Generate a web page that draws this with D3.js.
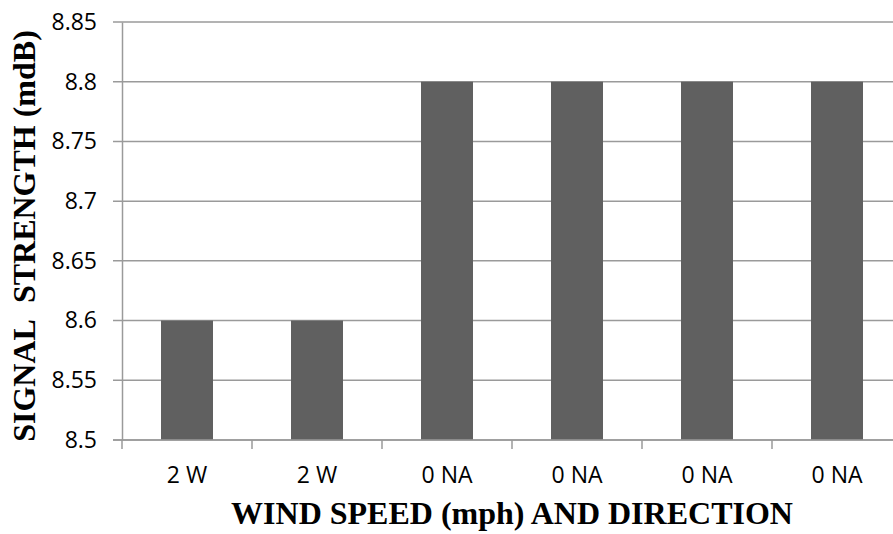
<!DOCTYPE html>
<html>
<head>
<meta charset="utf-8">
<script src="https://cdn.jsdelivr.net/npm/d3@7"></script>
<style>
  body { margin: 0; background: #fff; }
  svg { display: block; }
</style>
</head>
<body>
<svg id="chart"></svg>
<script>
// chart values
const categories = ["2 W", "2 W", "0 NA", "0 NA", "0 NA", "0 NA"];
const signal = [8.6, 8.6, 8.8, 8.8, 8.8, 8.8];
const yTicks = [8.5, 8.55, 8.6, 8.65, 8.7, 8.75, 8.8, 8.85];

const WIDTH = 893, HEIGHT = 534;
const plotLeft = 122, plotRight = 902, plotTop = 22, plotBottom = 440;

const svg = d3.select("#chart")
    .attr("width", WIDTH)
    .attr("height", HEIGHT);

const x = d3.scaleBand()
    .domain(d3.range(categories.length))
    .range([plotLeft, plotRight])
    .paddingInner(0.6)
    .paddingOuter(0.3);

const y = d3.scaleLinear()
    .domain([8.5, 8.85])
    .range([plotBottom, plotTop]);

// gridlines
svg.append("g")
    .selectAll("line")
    .data(yTicks)
    .join("line")
    .attr("x1", plotLeft - 9)
    .attr("x2", plotRight)
    .attr("y1", d => y(d))
    .attr("y2", d => y(d))
    .style("stroke", "#9a9a9a")
    .style("stroke-width", 1.5);

// bars
svg.append("g")
    .selectAll("rect")
    .data(signal)
    .join("rect")
    .attr("x", (d, i) => x(i))
    .attr("width", x.bandwidth())
    .attr("y", d => y(d))
    .attr("height", d => y(8.5) - y(d))
    .style("fill", "#606060");

// y axis
const yAxis = svg.append("g")
    .attr("transform", `translate(${plotLeft},0)`)
    .call(d3.axisLeft(y).tickValues(yTicks).tickFormat(d3.format("")).tickSize(0).tickPadding(25));
yAxis.select(".domain").style("stroke", "#9a9a9a").style("stroke-width", 1.5);
yAxis.selectAll("text")
    .style("font-family", "'Open Sans'")
    .style("font-size", "23px")
    .style("fill", "#000");

// x axis: ticks sit on category boundaries
const xb = d3.scaleLinear().domain([0, categories.length]).range([plotLeft, plotRight]);
const xAxis = svg.append("g")
    .attr("transform", `translate(0,${plotBottom})`);
xAxis.append("line")
    .attr("x1", plotLeft - 9).attr("x2", plotRight)
    .style("stroke", "#9a9a9a").style("stroke-width", 1.5);
xAxis.selectAll(".tick")
    .data(d3.range(categories.length + 1))
    .join("line")
    .attr("class", "tick")
    .attr("x1", d => xb(d)).attr("x2", d => xb(d))
    .attr("y1", 0).attr("y2", 9)
    .style("stroke", "#9a9a9a").style("stroke-width", 1.5);
xAxis.selectAll("text")
    .data(categories)
    .join("text")
    .attr("x", (d, i) => x(i) + x.bandwidth() / 2)
    .attr("y", 43)
    .attr("text-anchor", "middle")
    .style("font-family", "'Open Sans'")
    .style("font-size", "23px")
    .text(d => d);

// axis titles
svg.append("text")
    .attr("x", 512)
    .attr("y", 524)
    .attr("text-anchor", "middle")
    .style("font-family", "'Liberation Serif'")
    .style("font-weight", "bold")
    .style("font-size", "32px")
    .text("WIND SPEED (mph) AND DIRECTION");

svg.append("text")
    .attr("transform", "translate(35,236) rotate(-90)")
    .attr("text-anchor", "middle")
    .style("font-family", "'Liberation Serif'")
    .style("font-weight", "bold")
    .style("font-size", "32px")
    .text("SIGNAL\u00a0 STRENGTH (mdB)");
</script>
</body>
</html>
